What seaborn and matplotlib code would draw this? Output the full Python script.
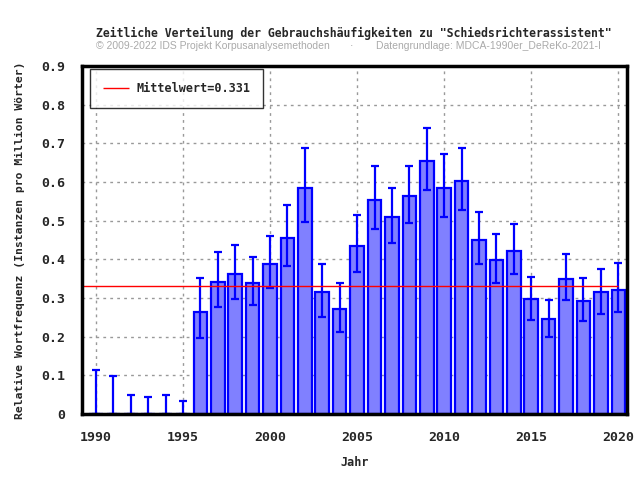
import numpy as np
import pandas as pd
import matplotlib
matplotlib.use('Agg')
import matplotlib.pyplot as plt
import seaborn as sns
from matplotlib.ticker import MultipleLocator

years = list(range(1990, 2021))
freq = [0, 0, 0, 0, 0, 0,
        0.264, 0.341, 0.362, 0.339, 0.388, 0.455, 0.584, 0.315, 0.272, 0.434,
        0.553, 0.510, 0.565, 0.655, 0.585, 0.603, 0.451, 0.399, 0.422, 0.297,
        0.245, 0.350, 0.291, 0.315, 0.321]
err_high = [0.114, 0.098, 0.049, 0.044, 0.049, 0.034,
            0.352, 0.419, 0.437, 0.406, 0.460, 0.540, 0.688, 0.388, 0.339, 0.515,
            0.642, 0.585, 0.642, 0.740, 0.673, 0.689, 0.523, 0.466, 0.492, 0.355,
            0.296, 0.415, 0.353, 0.376, 0.391]
err_low = [0, 0, 0, 0, 0, 0,
           0.197, 0.277, 0.297, 0.282, 0.326, 0.383, 0.497, 0.251, 0.212, 0.367,
           0.479, 0.442, 0.494, 0.579, 0.509, 0.528, 0.388, 0.339, 0.363, 0.243,
           0.199, 0.295, 0.240, 0.259, 0.264]
mean_value = 0.331

df = pd.DataFrame({'Jahr': years, 'Frequenz': freq})

sns.set_style('white')
mono = ['DejaVu Sans Mono']

fig = plt.figure(figsize=(6.4, 4.8), dpi=100)
ax = fig.add_axes([82 / 640, 1 - 414 / 480, 545 / 640, 348 / 480])

sns.barplot(data=df, x='Jahr', y='Frequenz', native_scale=True, width=0.78,
            color='#8080ff', saturation=1, edgecolor='#0000ff', linewidth=1.6,
            ax=ax, zorder=3)

yerr = [np.array(freq) - np.array(err_low), np.array(err_high) - np.array(freq)]
ax.errorbar(years, freq, yerr=yerr, fmt='none', ecolor='#0000ff',
            elinewidth=1.6, capsize=3, capthick=1.6, zorder=4)

ax.hlines(mean_value, 1989.2, 2020, colors='red', linewidth=1, zorder=5,
          label='Mittelwert=%.3f' % mean_value)

ax.set_xlim(1989.2, 2020.5)
ax.set_ylim(0, 0.9)
ax.xaxis.set_major_locator(MultipleLocator(5))
ax.xaxis.set_minor_locator(MultipleLocator(1))
ax.yaxis.set_major_locator(MultipleLocator(0.1))
ax.yaxis.set_minor_locator(MultipleLocator(0.05))
ax.set_xticks(range(1990, 2021, 5))
ax.set_xticklabels([str(y) for y in range(1990, 2021, 5)])
ax.set_yticks(np.round(np.arange(0, 0.91, 0.1), 1))
ax.set_yticklabels(['0'] + ['%.1f' % v for v in np.arange(0.1, 0.91, 0.1)])

ax.grid(True, which='major', color='#999999', linestyle=(0, (2, 3)), linewidth=1)
ax.set_axisbelow(True)
for s in ax.spines.values():
    s.set_linewidth(2.5)
    s.set_color('black')
    s.set_zorder(6)

ax.tick_params(axis='x', which='major', direction='out', length=6, width=2, pad=6)
ax.tick_params(axis='x', which='minor', direction='out', length=4, width=2)
ax.tick_params(axis='y', which='major', direction='in', length=5, width=1.5, pad=12)
ax.tick_params(axis='y', which='minor', direction='in', length=5, width=1.5)
for lab in ax.get_xticklabels() + ax.get_yticklabels():
    lab.set_family(mono)
    lab.set_fontweight('bold')
    lab.set_fontsize(9.5)

ax.set_xlabel('Jahr', family=mono, fontweight='bold', fontsize=8.5, labelpad=9)
ax.set_ylabel('Relative Wortfrequenz (Instanzen pro Million Wörter)', family=mono,
              fontweight='bold', fontsize=8.2, labelpad=12)

leg = ax.legend(loc='upper left', prop={'family': mono, 'weight': 'bold', 'size': 8.5},
                frameon=True, fancybox=False, edgecolor='black', handlelength=2.2,
                borderpad=1.1, borderaxespad=0, handletextpad=0.6,
                bbox_to_anchor=(0.0147, 0.991))
leg.get_frame().set_linewidth(1)

fig.text(354 / 640, 1 - 33 / 480, 'Zeitliche Verteilung der Gebrauchshäufigkeiten zu "Schiedsrichterassistent"',
         ha='center', va='center', family=mono, fontweight='bold', fontsize=8.3)
fig.text(96 / 640, 1 - 46 / 480, '© 2009-2022 IDS Projekt Korpusanalysemethoden', ha='left',
         va='center', color='#aaaaaa', fontsize=7.5, family=['Liberation Sans'])
fig.text(352 / 640, 1 - 46 / 480, '·', ha='center', va='center', color='#aaaaaa', fontsize=7.5)
fig.text(376 / 640, 1 - 46 / 480, 'Datengrundlage: MDCA-1990er_DeReKo-2021-I', ha='left',
         va='center', color='#aaaaaa', fontsize=7.5, family=['Liberation Sans'])

fig.savefig('out.png', dpi=100)
